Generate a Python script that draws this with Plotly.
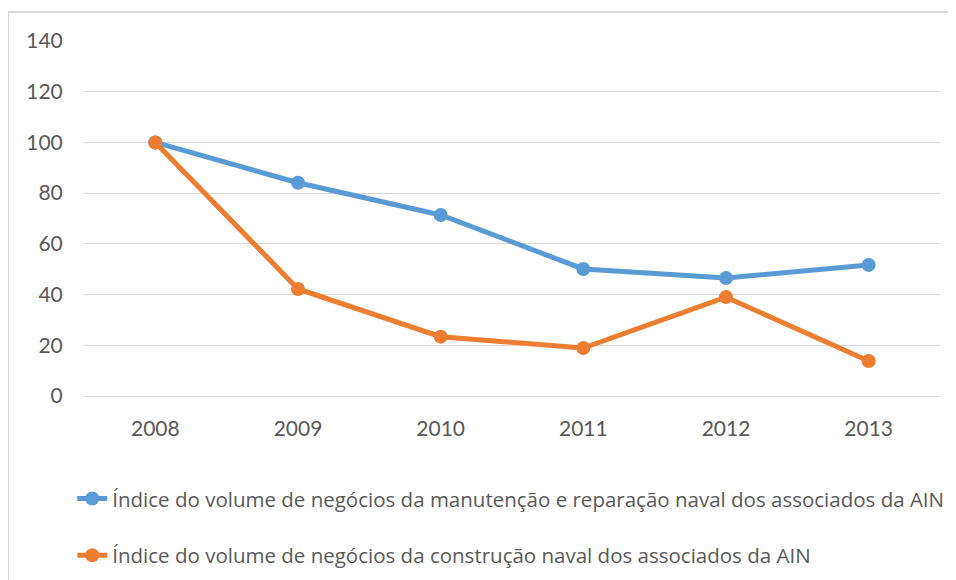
import plotly.graph_objects as go

years = ["2008", "2009", "2010", "2011", "2012", "2013"]
manutencao = [100, 84.1, 71.4, 50.1, 46.5, 51.7]
construcao = [100, 42.2, 23.4, 18.9, 39.0, 13.8]
y_ticks = [0, 20, 40, 60, 80, 100, 120, 140]

name_a = "Índice do volume de negócios da manutenção e reparação naval dos associados da AIN"
name_b = "Índice do volume de negócios da construção naval dos associados da AIN"

FONT = "Lato, Open Sans, sans-serif"
LEG_FONT = "Open Sans, Lato, sans-serif"

fig = go.Figure()
fig.add_trace(go.Scatter(x=years, y=manutencao, name=name_a, mode="lines+markers",
                         line=dict(color="#5B9BD5", width=5),
                         marker=dict(color="#5B9BD5", size=14), legendgroup="a"))
fig.add_trace(go.Scatter(x=years, y=construcao, name=name_b, mode="lines+markers",
                         line=dict(color="#ED7D31", width=5),
                         marker=dict(color="#ED7D31", size=14), legendgroup="b"))

fig.update_layout(
    width=956, height=580,
    margin=dict(l=76, r=24, t=33, b=192, autoexpand=False),
    paper_bgcolor="white", plot_bgcolor="white",
    font=dict(family=FONT, color="#595959"),
    showlegend=True,
    legend=dict(orientation="v", x=-0.0137, xanchor="left", y=-0.233, yanchor="top",
                font=dict(size=20.5, color="#595959", family=LEG_FONT),
                tracegroupgap=27, itemwidth=30, bgcolor="rgba(0,0,0,0)"),
    xaxis=dict(type="category", range=[-0.5, 5.5], showgrid=False, zeroline=False,
               showline=False, ticks="outside", ticklen=14, tickcolor="rgba(0,0,0,0)",
               tickfont=dict(size=21, color="#595959", family=FONT)),
    yaxis=dict(range=[0, 140], tickvals=y_ticks, showgrid=True, gridcolor="#D9D9D9",
               gridwidth=1, zeroline=True, zerolinecolor="#D9D9D9", zerolinewidth=1,
               showline=False, ticks="outside", ticklen=16, tickcolor="rgba(0,0,0,0)",
               tickfont=dict(size=21, color="#595959", family=FONT)),
    shapes=[dict(type="rect", xref="paper", yref="paper",
                 x0=-0.0888, x1=1.2, y0=-0.7, y1=1.0817,
                 line=dict(color="#D9D9D9", width=2), layer="below")],
)

fig.write_html("out.html")
